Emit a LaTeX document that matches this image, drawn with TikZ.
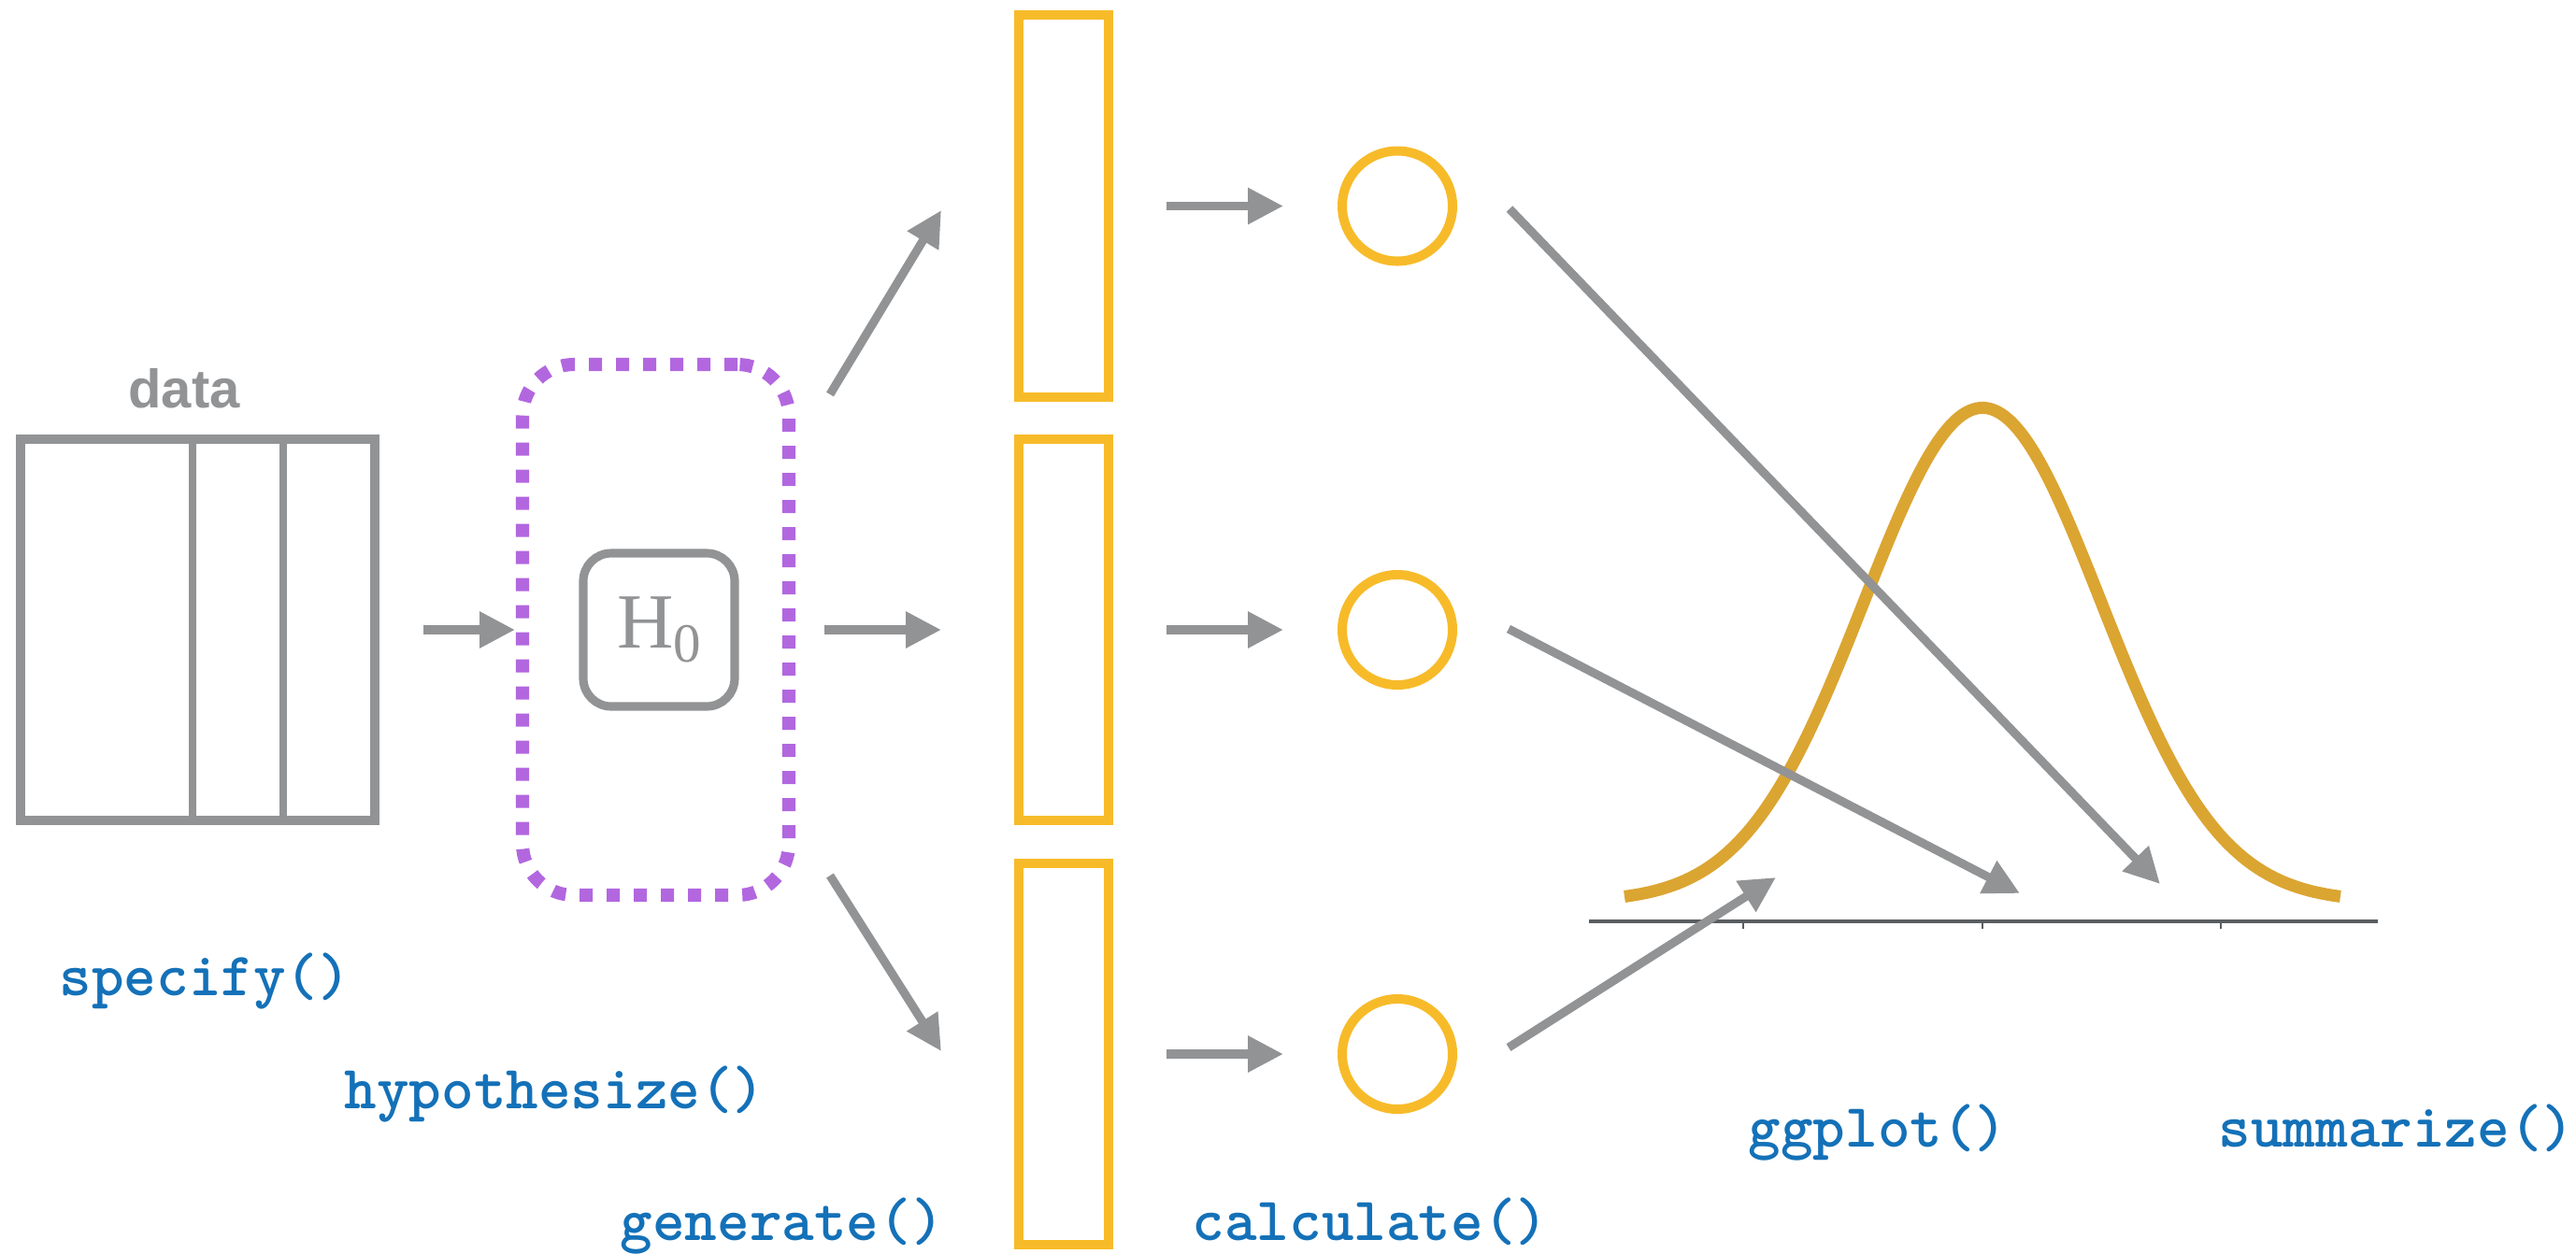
\documentclass[tikz,border=0pt]{standalone}
\usepackage{fontspec}
\usepackage{tikz}
\usetikzlibrary{positioning,arrows.meta}

\newfontfamily\labelfont{Liberation Sans}
\newfontfamily\hypfont{Liberation Serif}

\definecolor{linegray}{RGB}{146,147,149}
\definecolor{sampyellow}{RGB}{247,187,42}
\definecolor{nullpurple}{RGB}{178,103,223}
\definecolor{codeblue}{RGB}{20,113,184}
\definecolor{curvegold}{RGB}{219,165,50}
\definecolor{axisgray}{RGB}{90,94,98}

\tikzset{
  arr/.style={color=linegray, line width=2.6pt, -{Triangle[length=0.38cm,width=0.37cm]}},
  databox/.style={draw=linegray, line width=2.85pt, minimum width=3.79cm, minimum height=4.08cm, inner sep=0pt, outer sep=0pt},
  hypbox/.style={draw=nullpurple, line width=4pt, dash pattern=on 0.14cm off 0.15cm, rounded corners=0.55cm, minimum width=2.85cm, minimum height=5.68cm, outer sep=0pt},
  nullbox/.style={draw=linegray, line width=2.6pt, rounded corners=0.3cm, minimum width=1.62cm, minimum height=1.64cm, inner sep=0pt, outer sep=0pt, text=linegray},
  sampbox/.style={draw=sampyellow, line width=2.7pt, minimum width=0.96cm, minimum height=4.08cm, outer sep=0pt},
  statnode/.style={circle, draw=sampyellow, line width=2.85pt, minimum size=1.18cm, outer sep=0pt},
  verb/.style={text=codeblue, inner sep=0pt, anchor=base west, font=\ttfamily\bfseries\fontsize{18.75}{20}\selectfont},
  datalabel/.style={text=linegray, inner sep=0pt, font=\labelfont\bfseries\fontsize{16.5}{18}\selectfont},
}

\begin{document}
\begin{tikzpicture}[node distance=2cm and 2cm]
\useasboundingbox (0,0) rectangle (27.56,-13.41);

% samples, null hypothesis, data
\node[sampbox] (s2) at (11.38,-6.74) {};
\node[sampbox, minimum height=4.09cm] (s1) [above=0.45cm of s2] {};
\node[sampbox] (s3) [below=0.46cm of s2] {};
\node[hypbox] (hyp) [left=2.46cm of s2] {};
\node[databox] (data) [left=1.58cm of hyp] {};
\node[nullbox] (h0) at ([xshift=0.035cm]hyp.center) {\hypfont\fontsize{23.8}{24}\selectfont H\raisebox{-4.3pt}{\fontsize{16.8}{17}\selectfont 0}};
\node[datalabel] (dlab) at (1.97,-4.16) {data};
\draw[linegray, line width=2pt] ([xshift=-0.055cm]data.north) -- ([xshift=-0.055cm]data.south);
\draw[linegray, line width=2pt] ([xshift=0.915cm]data.north) -- ([xshift=0.915cm]data.south);

% statistics
\node[statnode] (c1) [right=2.5cm of s1] {};
\node[statnode] (c2) [right=2.5cm of s2] {};
\node[statnode] (c3) [right=2.5cm of s3] {};

% null distribution
\draw[axisgray, line width=1.1pt] (17.00,-9.86) -- (25.44,-9.86);
\foreach \t in {18.65,21.21,23.76}
  \draw[axisgray, line width=0.8pt] (\t,-9.86) -- (\t,-9.94);
\draw[curvegold, line width=3.7pt] plot[domain=17.38:25.04, samples=120, smooth] (\x, {-9.65+5.285*exp(-((\x-21.21)*(\x-21.21))/3.2258)});
\coordinate (t1) at (23.11,-9.46);
\coordinate (t2) at (21.61,-9.56);
\coordinate (t3) at (19.00,-9.39);

% arrows
\path[arr, shorten <=0.52cm, shorten >=0.08cm] (data) edge (hyp);
\path[arr, shorten <=0.38cm, shorten >=0.83cm] (hyp) edge (s2);
\draw[arr] ([shift={(0.44,-0.32)}]hyp.north east) -- ([shift={(-0.83,-0.045)}]s1.west);
\draw[arr] ([shift={(0.44,0.21)}]hyp.south east) -- ([shift={(-0.83,0.03)}]s3.west);
\path[arr, shorten <=0.62cm, shorten >=0.63cm] (s1) edge (c1);
\path[arr, shorten <=0.62cm, shorten >=0.63cm] (s2) edge (c2);
\path[arr, shorten <=0.62cm, shorten >=0.63cm] (s3) edge (c3);
\draw[arr] ([shift={(0.61,-0.03)}]c1.east) -- (t1);
\draw[arr] ([shift={(0.60,0.01)}]c2.east) -- (t2);
\draw[arr] ([shift={(0.60,0.07)}]c3.east) -- (t3);

% verbs
\node[verb] (lspec) at (0.63,-10.65) {specify()};
\node[verb] (lhyp) at (3.68,-11.86) {hypothesize()};
\node[verb] (lgen) at (6.63,-13.27) {generate()};
\node[verb] (lcalc) at (12.75,-13.27) {calculate()};
\node[verb] (lplot) at (18.70,-12.27) {ggplot()};
\node[verb] (lsum) at (23.73,-12.27) {summarize()};
\end{tikzpicture}
\end{document}
